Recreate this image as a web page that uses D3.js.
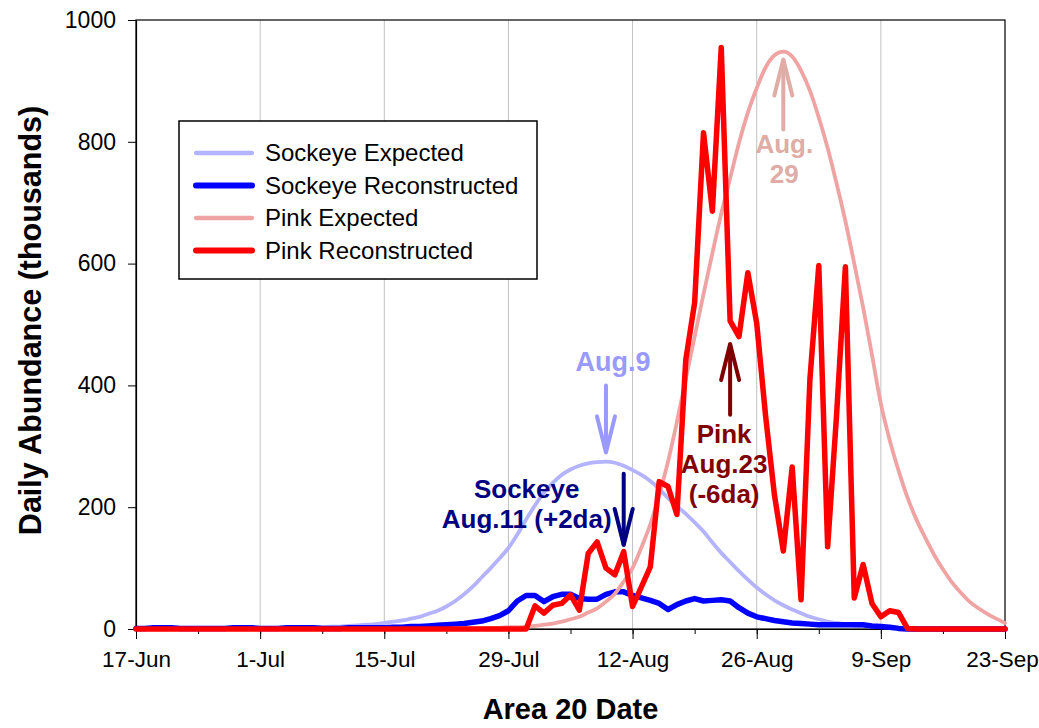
<!DOCTYPE html>
<html>
<head>
<meta charset="utf-8">
<script src="https://cdn.jsdelivr.net/npm/d3@7"></script>
<style>
  body { margin: 0; background: #ffffff; }
  svg { display: block; font-family: 'Liberation Sans', Arial, sans-serif; }
</style>
</head>
<body>
<div id="chart"></div>
<script>
// daily values (thousands), starting 17-Jun
const startDate = new Date(2009, 5, 17);

const sockeyeExpected = [
  0,0,0,0,0,1, 1,1,1,1,1,1,1,1, 2,2,2,2,3,3,3,3, 4,4,5,6,7,8,
  10,12,14,17,20,25,30,37,46,57,70,85,100,116,133,155,180,203,224,240,253,262,
  268,272,274,275,273,268,261,253,243,230,215,202,189,175,160,142,125,110,95,81,
  68,57,47,39,32,26,20,16,12,10,8,6,5,4,3,3,2,2,1,1,1,1,
  0,0,0,0,0,0,0
];
const sockeyeReconstructed = [
  1,1,2,2,2,1,1,1,1,1, 1,2,2,2,1,1,1,2,2,2, 2,1,1,1,2,2,2,2,2,3,
  3,4,4,5,6,7,8,9,11,13,17,22,30,46,55,55,45,53,57,57,
  50,49,49,57,61,61,55,51,47,42,32,40,46,50,46,47,48,46,35,26,
  20,17,14,12,10,9,8,7,7,7,7,7,7,5,4,3,1,
  0,0,0,0,0,0,0,0,0,0,0,0
];
const pinkExpected = [
  0,0,0,0,0,0,0,0,0,0, 0,0,0,0,0,0,0,0,0,0, 0,0,0,0,0,0,0,0,0,0, 0,0,0,0,0,0,
  1,1,1,1,2,2,3,3,4,5,7,9,12,16,20,27,34,45,58,78,
  100,134,172,220,275,340,410,480,550,617,682,740,798,848,888,922,942,948,940,917,
  884,840,790,732,670,600,528,450,370,310,260,216,180,150,122,98,77,60,45,34,
  25,17,10
];
const pinkReconstructed = [
  0,0,0,0,0,0,0,0,0,0, 0,0,0,0,0,0,0,0,0,0, 0,0,0,0,0,0,0,0,0,0,
  0,0,0,0,0,0,0,0,0,0, 0,0,0,0,0,
  38,26,39,42,56,31,124,143,100,89,127,37,69,102,242,234,188,442,536,815,
  686,955,506,480,585,502,350,220,128,266,48,410,597,135,350,595,51,106,42,20,
  30,27,1,
  0,0,0,0,0,0,0,0,0,0,0
];

const seriesNames = ['Sockeye Expected', 'Sockeye Reconstructed', 'Pink Expected', 'Pink Reconstructed'];
const seriesColors = ['#b3b3ff', '#0000ff', '#efa3a3', '#ff0000'];
const seriesWidths = [3.8, 5.5, 3.8, 5.5];
const seriesData = [sockeyeExpected, sockeyeReconstructed, pinkExpected, pinkReconstructed];

const yTicks = [0, 200, 400, 600, 800, 1000];
const endDate = new Date(2009, 8, 23);

// annotations: label lines, date the arrow points at, arrow ends (in data units)
const notes = [
  {lines: ['Aug.9'], color: '#9999ff', size: 27, x: new Date(2009, 7, 9), labelY: 371, from: 400, to: 290, textDx: 7},
  {lines: ['Sockeye', 'Aug.11 (+2da)'], color: '#000080', size: 26, x: new Date(2009, 7, 11), labelY: 498, from: 255, to: 138, textDx: -97},
  {lines: ['Pink', 'Aug.23', '(-6da)'], color: '#800000', size: 26, x: new Date(2009, 7, 23), labelY: 443, from: 352, to: 468, textDx: -6},
  {lines: ['Aug.', '29'], color: '#e0aca6', size: 26, x: new Date(2009, 7, 29), labelY: 153, from: 820, to: 935, textDx: 1}
];

const width = 1039, height = 728;
const margin = {left: 136, right: 34, top: 20, bottom: 99};

const svg = d3.select('#chart').append('svg')
  .attr('width', width)
  .attr('height', height);

const x = d3.scaleTime()
  .domain([startDate, endDate])
  .range([margin.left, width - margin.right]);
const y = d3.scaleLinear()
  .domain([0, 1000])
  .range([height - margin.bottom, margin.top]);

const majorTicks = d3.timeDay.range(startDate, d3.timeDay.offset(endDate, 1), 14);
const minorTicks = d3.timeDay.range(startDate, d3.timeDay.offset(endDate, 1), 7);

// vertical grid lines
svg.append('g')
  .selectAll('line')
  .data(majorTicks.slice(1, -1))
  .enter().append('line')
  .attr('x1', d => x(d)).attr('x2', d => x(d))
  .attr('y1', y(0)).attr('y2', y(1000))
  .attr('stroke', '#c0c0c0')
  .attr('stroke-width', 1);

// plot frame
svg.append('rect')
  .attr('x', x(startDate)).attr('y', y(1000))
  .attr('width', x(endDate) - x(startDate))
  .attr('height', y(0) - y(1000))
  .attr('fill', 'none')
  .attr('stroke', '#000')
  .attr('stroke-width', 1.2);

// x axis: minor ticks then labelled major ticks
svg.append('g')
  .attr('transform', 'translate(0,' + y(0) + ')')
  .call(d3.axisBottom(x).tickValues(minorTicks).tickSize(5).tickFormat(''))
  .call(g => g.select('.domain').remove());

const xAxis = svg.append('g')
  .attr('transform', 'translate(0,' + y(0) + ')')
  .call(d3.axisBottom(x).tickValues(majorTicks).tickSize(10).tickSizeOuter(0).tickPadding(12)
    .tickFormat(d3.timeFormat('%-d-%b')));
xAxis.selectAll('text').style('font-size', '22.5px').attr('fill', '#000');
xAxis.selectAll('.tick:last-of-type text').attr('dx', '-3');
xAxis.selectAll('line').attr('stroke', '#000');
xAxis.select('.domain').attr('stroke', '#000').attr('stroke-width', 1.2);

const yAxis = svg.append('g')
  .attr('transform', 'translate(' + x(startDate) + ',0)')
  .call(d3.axisLeft(y).tickValues(yTicks).tickSize(8).tickSizeOuter(0).tickPadding(12)
    .tickFormat(d3.format('d')));
yAxis.selectAll('text').style('font-size', '23px').attr('fill', '#000');
yAxis.selectAll('line').attr('stroke', '#000');
yAxis.select('.domain').attr('stroke', '#000').attr('stroke-width', 1.2);

// axis titles
svg.append('text')
  .attr('x', (x(startDate) + x(endDate)) / 2)
  .attr('y', 719)
  .attr('text-anchor', 'middle')
  .style('font-size', '29px')
  .style('font-weight', 'bold')
  .text('Area 20 Date');

svg.append('text')
  .attr('transform', 'translate(41,' + ((y(0) + y(1000)) / 2 - 4) + ') rotate(-90)')
  .attr('text-anchor', 'middle')
  .style('font-size', '30.5px')
  .style('font-weight', 'bold')
  .text('Daily Abundance (thousands)');

// series lines
const line = d3.line()
  .x((d, i) => x(d3.timeDay.offset(startDate, i)))
  .y(d => y(d));

seriesData.forEach((values, i) => {
  const isExpected = i % 2 === 0;
  svg.append('path')
    .datum(values)
    .attr('fill', 'none')
    .attr('stroke', seriesColors[i])
    .attr('stroke-width', seriesWidths[i])
    .attr('stroke-linejoin', 'round')
    .attr('stroke-linecap', 'round')
    .attr('d', isExpected ? line.curve(d3.curveMonotoneX)(values) : line.curve(d3.curveLinear)(values));
});

// annotations with arrows
notes.forEach(n => {
  const ax = x(n.x);
  const y1 = y(n.from), y2 = y(n.to);
  const dir = y2 > y1 ? 1 : -1;
  const g = svg.append('g')
    .attr('stroke', n.color)
    .attr('stroke-width', 4)
    .attr('stroke-linecap', 'round')
    .attr('fill', 'none');
  g.append('line').attr('x1', ax).attr('x2', ax).attr('y1', y1).attr('y2', y2);
  g.append('path')
    .attr('d', 'M' + (ax - 9) + ',' + (y2 - dir * 36) + 'L' + ax + ',' + y2 + 'L' + (ax + 9) + ',' + (y2 - dir * 36));

  n.lines.forEach((t, j) => {
    svg.append('text')
      .attr('x', ax + n.textDx)
      .attr('y', n.labelY + j * 30)
      .attr('text-anchor', 'middle')
      .attr('fill', n.color)
      .style('font-size', n.size + 'px')
      .style('font-weight', 'bold')
      .text(t);
  });
});

// legend
const legend = svg.append('g').attr('transform', 'translate(179,121)');
legend.append('rect')
  .attr('width', 358).attr('height', 158)
  .attr('fill', '#fff')
  .attr('stroke', '#000')
  .attr('stroke-width', 1.5);

seriesNames.forEach((name, i) => {
  const ly = 32 + i * 32.5;
  legend.append('line')
    .attr('x1', 17).attr('x2', 73)
    .attr('y1', ly).attr('y2', ly)
    .attr('stroke', seriesColors[i])
    .attr('stroke-width', seriesWidths[i] + 0.5)
    .attr('stroke-linecap', 'round');
  legend.append('text')
    .attr('x', 86).attr('y', ly)
    .attr('dy', '0.35em')
    .style('font-size', '24px')
    .text(name);
});
</script>
</body>
</html>
